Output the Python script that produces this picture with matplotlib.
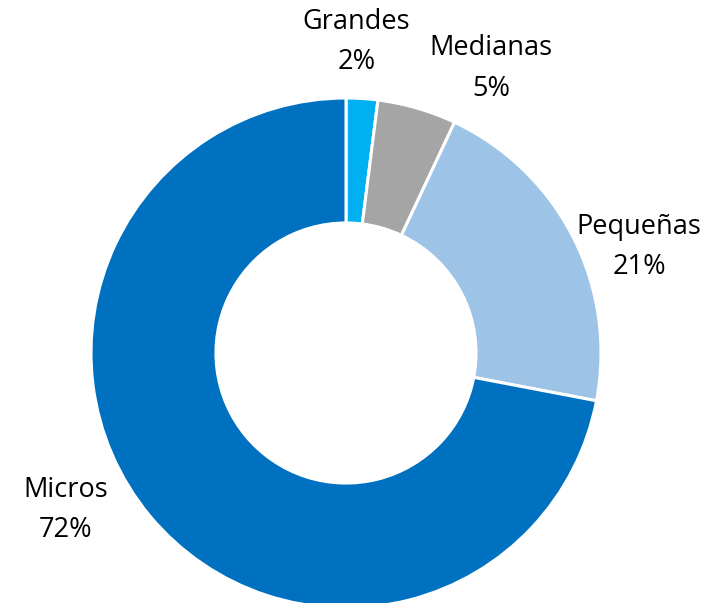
import matplotlib
matplotlib.use("Agg")
import matplotlib.pyplot as plt

plt.rcParams['font.family'] = ['Open Sans', 'DejaVu Sans']

categories = ['Grandes', 'Medianas', 'Pequeñas', 'Micros']
values = [2, 5, 21, 72]
colors = ['#00B0F0', '#A5A5A5', '#9DC3E6', '#0070C0']
# label centres in data units (pie radius = 1)
label_pos = [(0.04, 1.22), (0.57, 1.115), (1.15, 0.415), (-1.10, -0.615)]

fig = plt.figure(figsize=(7.10, 6.03), dpi=100)
ax = fig.add_axes([91/710, -5/603, 510/710, 510/603])

ax.pie(values, colors=colors, startangle=90, counterclock=False, radius=1,
       wedgeprops=dict(width=0.49, edgecolor='white', linewidth=2.2))

for name, v, (x, y) in zip(categories, values, label_pos):
    ax.text(x, y, f'{name}\n{v}%', ha='center', va='center', fontsize=19.5,
            linespacing=1.6, color='black')

ax.set_xlim(-1, 1)
ax.set_ylim(-1, 1)
ax.set_aspect('equal')
ax.axis('off')

fig.savefig('out.png', dpi=100)
